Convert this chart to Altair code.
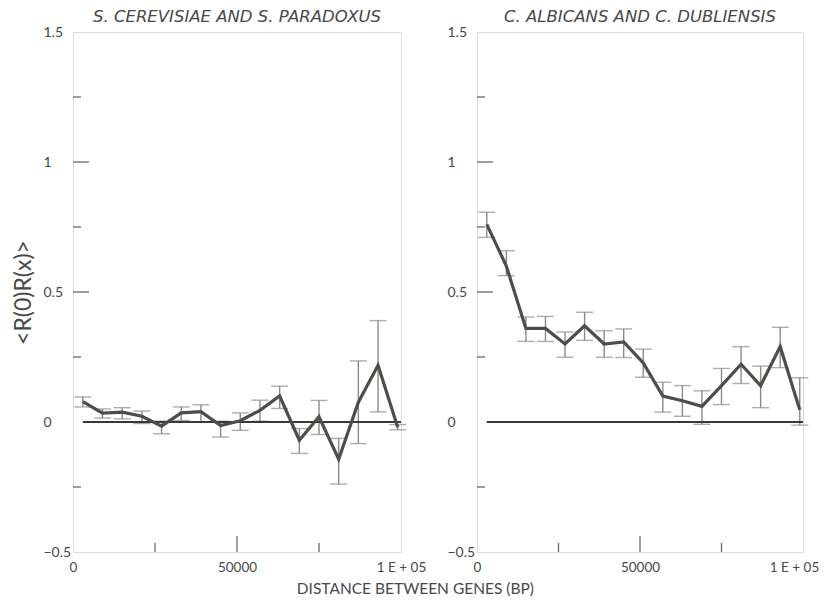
import altair as alt
import pandas as pd

# ---- data ----
dist = [3000, 9000, 15000, 21000, 27000, 33000, 39000, 45000, 51000,
        57000, 63000, 69000, 75000, 81000, 87000, 93000, 99000]

sc_mean = [0.078, 0.034, 0.038, 0.022, -0.016, 0.035, 0.040, -0.014, 0.005,
           0.045, 0.100, -0.070, 0.020, -0.143, 0.076, 0.218, -0.020]
sc_lo = [0.058, 0.015, 0.012, -0.006, -0.045, 0.006, 0.000, -0.058, -0.032,
         0.003, 0.052, -0.121, -0.048, -0.239, -0.083, 0.039, -0.030]
sc_hi = [0.096, 0.050, 0.055, 0.042, 0.003, 0.058, 0.066, 0.003, 0.035,
         0.084, 0.138, -0.025, 0.083, -0.063, 0.235, 0.390, -0.010]

ca_mean = [0.760, 0.600, 0.360, 0.360, 0.300, 0.370, 0.300, 0.308, 0.227,
           0.100, 0.082, 0.060, 0.140, 0.222, 0.140, 0.290, 0.047]
ca_lo = [0.710, 0.563, 0.310, 0.310, 0.249, 0.314, 0.249, 0.248, 0.172,
         0.038, 0.022, -0.009, 0.067, 0.148, 0.055, 0.209, -0.012]
ca_hi = [0.807, 0.659, 0.404, 0.406, 0.346, 0.422, 0.351, 0.358, 0.280,
         0.153, 0.140, 0.120, 0.206, 0.290, 0.215, 0.364, 0.170]

panel_titles = ["S. CEREVISIAE AND S. PARADOXUS", "C. ALBICANS AND C. DUBLIENSIS"]
y_label_values = [-0.5, 0, 0.5, 1, 1.5]
y_major_ticks = [0.5, 1.0]
y_minor_ticks = [-0.25, 0.25, 0.75, 1.25]
x_label_values = [0, 50000, 100000]
x_major_ticks = [50000]
x_minor_ticks = [25000, 75000]
zero_value = [0]

FONT = "Lato"
TFONT = "DejaVu Sans"
TXT = "#484848"
LINE = "#4a4f48"
ERR = "#8a8a8a"
ZERO = "#363936"
FRAME = "#6a6a6a"
H = 520


def panel(mean, lo, hi, title, y_title, width, last_shift):
    df = pd.DataFrame({"d": dist, "m": mean, "lo": lo, "hi": hi})
    xs = alt.Scale(domain=[0, 100000], nice=False, zero=False)
    ys = alt.Scale(domain=[-0.5, 1.5], nice=False, zero=False)
    xax = alt.Axis(values=x_label_values,
                   labelExpr="datum.value == 100000 ? '1 E + 05' : toString(datum.value)",
                   ticks=False, tickSize=0, domain=False, grid=False,
                   labelFlush=False, labelPadding=8, labelFont=FONT,
                   labelFontSize=13.5, labelColor=TXT,
                   labelOffset={"condition": {"test": "datum.value == 100000",
                                              "value": last_shift},
                                "value": 0})
    yax_kwargs = dict(values=y_label_values, format=".1~f", ticks=False, tickSize=0,
                      domain=False, grid=False, labelAlign="left", labelPadding=30,
                      labelFont=FONT, labelFontSize=14, labelColor=TXT,
                      titleFont=FONT, titleFontSize=23, titleColor=TXT,
                      titleFontWeight="normal", titlePadding=8)
    if y_title:
        yax = alt.Axis(title=y_title, **yax_kwargs)
    else:
        yax = alt.Axis(title=None, **yax_kwargs)

    base = alt.Chart(df)
    err = base.mark_rule(color=ERR, strokeWidth=1.4).encode(
        x=alt.X("d:Q", scale=xs, axis=xax, title=None),
        y=alt.Y("lo:Q", scale=ys, axis=yax),
        y2="hi:Q",
    )
    cap_lo = base.mark_tick(orient="horizontal", size=17, thickness=1.4, color=ERR).encode(
        x="d:Q", y="lo:Q")
    cap_hi = base.mark_tick(orient="horizontal", size=17, thickness=1.4, color=ERR).encode(
        x="d:Q", y="hi:Q")
    line = base.mark_line(color=LINE, strokeWidth=3.2).encode(x="d:Q", y="m:Q")

    zdf = pd.DataFrame({"v": zero_value, "x0": [dist[0]], "x1": [100000]})
    zero = alt.Chart(zdf).mark_rule(color=ZERO, strokeWidth=2.2).encode(
        y="v:Q", x="x0:Q", x2="x1:Q")

    ymaj = alt.Chart(pd.DataFrame({"v": y_major_ticks})).mark_rule(
        color=FRAME, strokeWidth=1.3).encode(y="v:Q", x=alt.value(0), x2=alt.value(16))
    ymin = alt.Chart(pd.DataFrame({"v": y_minor_ticks})).mark_rule(
        color=FRAME, strokeWidth=1.3).encode(y="v:Q", x=alt.value(0), x2=alt.value(8))
    xmaj = alt.Chart(pd.DataFrame({"v": x_major_ticks})).mark_rule(
        color=FRAME, strokeWidth=1.3).encode(x="v:Q", y=alt.value(H), y2=alt.value(H - 16))
    xmin = alt.Chart(pd.DataFrame({"v": x_minor_ticks})).mark_rule(
        color=FRAME, strokeWidth=1.3).encode(x="v:Q", y=alt.value(H), y2=alt.value(H - 9))

    return alt.layer(err, cap_lo, cap_hi, zero, line, ymaj, ymin, xmaj, xmin).properties(
        width=width, height=H,
        title=alt.TitleParams(title, font=TFONT, fontSize=16.5, fontStyle="italic",
                              fontWeight="normal", color=TXT, anchor="middle", offset=0),
    )


left = panel(sc_mean, sc_lo, sc_hi, panel_titles[0], "<R(0)R(x)>", 328, 0)
right = panel(ca_mean, ca_lo, ca_hi, panel_titles[1], None, 326, -9)

chart = alt.hconcat(left, right, spacing=76, bounds="flush").properties(
    title=alt.TitleParams("DISTANCE BETWEEN GENES (BP)", orient="bottom", anchor="middle",
                          font=FONT, fontSize=15.5, fontWeight="normal", color=TXT, offset=8),
    padding={"left": 3, "top": 0, "right": 0, "bottom": 0},
).configure_view(stroke=FRAME, strokeWidth=1.4).configure(background="white")

chart.save("out.html", embed_options={"renderer": "svg", "actions": False})
